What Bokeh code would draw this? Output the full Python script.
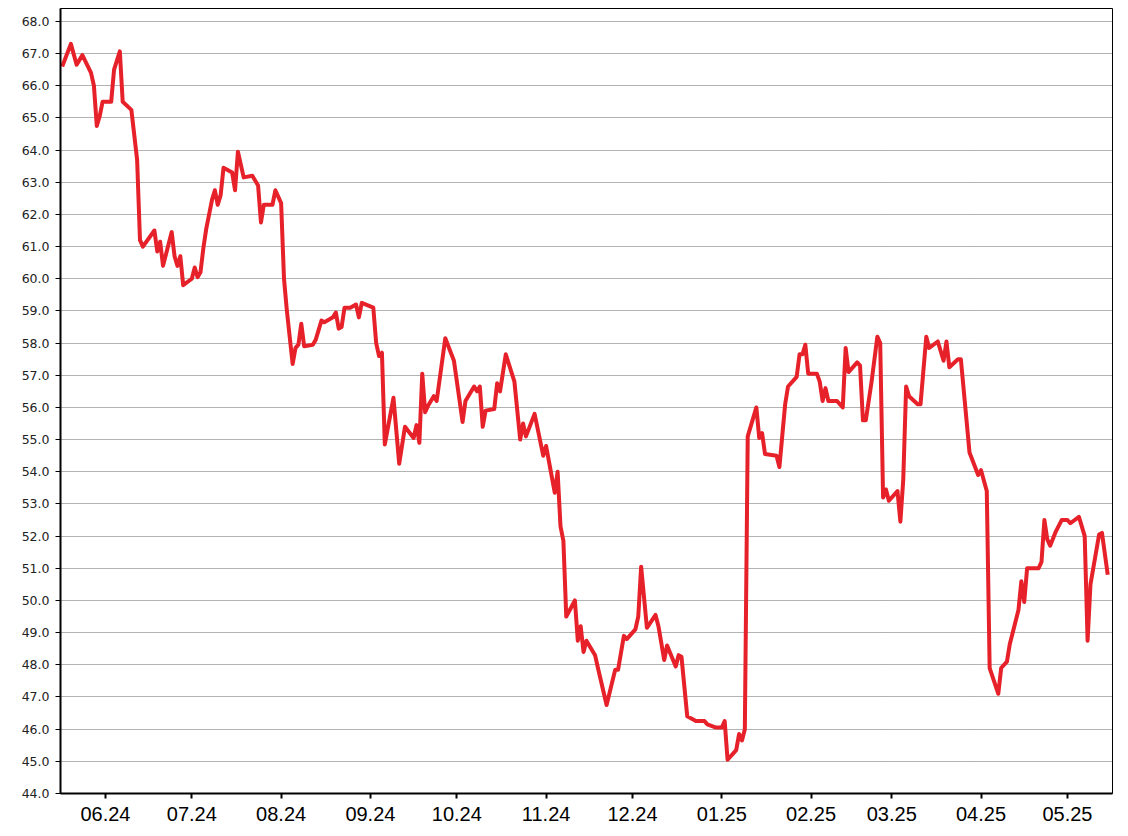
from datetime import datetime, timedelta
from bokeh.plotting import figure
from bokeh.models import (Range1d, SingleIntervalTicker, PrintfTickFormatter,
                          MonthsTicker, DatetimeTickFormatter, ColumnDataSource)
from bokeh.embed import file_html
from bokeh.resources import INLINE

BASE_DATE = "2024-06-01"
day_offset = [
    -15, -12, -10, -8, -5, -4, -3, -2, -1, 2,
    3, 5, 6, 9, 11, 12, 13, 17, 18, 19,
    20, 23, 24, 25, 26, 27, 30, 31, 32, 33,
    34, 35, 37, 38, 39, 40, 41, 44, 45, 46,
    48, 51, 53, 54, 55, 58, 59, 61, 62, 63,
    65, 66, 67, 68, 69, 72, 73, 75, 76, 79,
    80, 81, 82, 83, 85, 87, 88, 89, 93, 94,
    95, 96, 97, 100, 102, 104, 107, 108, 109, 110,
    111, 112, 114, 115, 118, 121, 124, 125, 128, 129,
    130, 131, 132, 135, 136, 137, 139, 142, 144, 145,
    146, 149, 152, 153, 156, 157, 158, 159, 160, 163,
    164, 165, 166, 167, 170, 171, 174, 177, 178, 180,
    181, 184, 185, 186, 188, 191, 192, 194, 195, 198,
    199, 200, 202, 205, 208, 209, 212, 214, 215, 216,
    219, 220, 221, 222, 223, 226, 227, 228, 229, 233,
    234, 236, 237, 240, 241, 242, 243, 244, 247, 248,
    249, 250, 251, 254, 256, 257, 258, 261, 262, 263,
    264, 266, 268, 269, 270, 271, 272, 275, 276, 277,
    278, 279, 282, 283, 285, 286, 289, 291, 292, 293,
    296, 297, 300, 303, 304, 306, 307, 310, 311, 313,
    314, 317, 318, 319, 320, 324, 325, 326, 327, 328,
    330, 332, 334, 335, 338, 340, 341, 342, 345, 346,
    348,
]
price = [
    66.6, 67.3, 66.65, 66.95, 66.4, 66.0, 64.75, 65.05, 65.5, 65.5,
    66.5, 67.07, 65.5, 65.25, 63.7, 61.2, 61.0, 61.5, 60.85, 61.15,
    60.4, 61.45, 60.7, 60.4, 60.7, 59.8, 60.0, 60.35, 60.05, 60.2,
    60.95, 61.55, 62.45, 62.75, 62.3, 62.6, 63.45, 63.3, 62.75, 63.95,
    63.15, 63.2, 62.9, 61.75, 62.3, 62.3, 62.75, 62.35, 60.0, 59.0,
    57.35, 57.85, 57.95, 58.6, 57.9, 57.95, 58.1, 58.7, 58.65, 58.8,
    58.95, 58.45, 58.5, 59.1, 59.1, 59.2, 58.8, 59.25, 59.1, 58.0,
    57.6, 57.7, 54.85, 56.3, 54.25, 55.4, 55.05, 55.45, 54.9, 57.05,
    55.85, 56.05, 56.35, 56.2, 58.15, 57.45, 55.55, 56.2, 56.65, 56.5,
    56.65, 55.4, 55.9, 55.95, 56.75, 56.5, 57.65, 56.8, 55.0, 55.5,
    55.1, 55.8, 54.5, 54.8, 53.35, 54.0, 52.3, 51.85, 49.5, 50.0,
    48.75, 49.2, 48.4, 48.75, 48.3, 47.9, 46.75, 47.85, 47.85, 48.9,
    48.8, 49.1, 49.5, 51.05, 49.15, 49.55, 49.2, 48.15, 48.6, 47.95,
    48.3, 48.25, 46.4, 46.25, 46.25, 46.15, 46.05, 46.05, 46.25, 45.05,
    45.35, 45.85, 45.65, 46.0, 55.1, 56.0, 55.05, 55.2, 54.55, 54.5,
    54.15, 56.1, 56.65, 56.95, 57.65, 57.65, 57.95, 57.05, 57.05, 56.8,
    56.2, 56.6, 56.2, 56.2, 56.0, 57.85, 57.1, 57.4, 57.3, 55.6,
    55.6, 56.8, 58.2, 58.0, 53.2, 53.45, 53.1, 53.4, 52.45, 53.75,
    56.65, 56.35, 56.1, 56.1, 58.2, 57.85, 58.05, 57.45, 58.05, 57.25,
    57.5, 57.5, 54.6, 53.9, 54.05, 53.4, 47.9, 47.1, 47.9, 48.1,
    48.65, 49.7, 50.6, 49.95, 51.0, 51.0, 51.2, 52.5, 51.9, 51.7,
    52.15, 52.5, 52.5, 52.4, 52.6, 52.0, 48.75, 50.5, 52.05, 52.1,
    50.8,
]
Y_MIN, Y_MAX = 44.0, 68.4

base = datetime.strptime(BASE_DATE, "%Y-%m-%d")
dates = [base + timedelta(days=d) for d in day_offset]
src = ColumnDataSource(dict(date=dates, price=price))

p = figure(width=1128, height=836, x_axis_type="datetime",
           output_backend="svg", toolbar_location=None,
           x_range=Range1d(base + timedelta(days=-15.6), base + timedelta(days=349.65)),
           y_range=Range1d(Y_MIN, Y_MAX),
           min_border_left=60, min_border_right=16, min_border_top=8, min_border_bottom=43)

p.background_fill_color = "white"
p.border_fill_color = "white"
p.outline_line_color = "black"
p.outline_line_width = 1

p.line("date", "price", source=src, line_color="#e62129", line_width=4, line_join="round")

# y axis
p.yaxis.ticker = SingleIntervalTicker(interval=1)
p.yaxis.formatter = PrintfTickFormatter(format="%.1f")
p.yaxis.major_label_text_font = "DejaVu Sans"
p.yaxis.major_label_text_font_size = "12.5px"
p.yaxis.major_label_text_color = "#222222"
p.yaxis.major_label_standoff = 6
p.yaxis.major_tick_out = 5
p.yaxis.major_tick_in = 0
p.yaxis.minor_tick_line_color = None
p.yaxis.axis_line_color = "black"
p.yaxis.axis_line_width = 2
p.yaxis.major_tick_line_color = "black"

# x axis
p.xaxis.ticker = MonthsTicker(months=list(range(1, 13)))
p.xaxis.formatter = DatetimeTickFormatter(months="%m.%y", days="%m.%y", years="%m.%y")
p.xaxis.major_label_text_font = "Liberation Sans"
p.xaxis.major_label_text_font_size = "20px"
p.xaxis.major_label_text_color = "black"
p.xaxis.major_label_standoff = 8
p.xaxis.major_tick_out = 5
p.xaxis.major_tick_in = 0
p.xaxis.minor_tick_line_color = None
p.xaxis.axis_line_color = "black"
p.xaxis.axis_line_width = 2
p.xaxis.major_tick_line_color = "black"
p.xaxis.major_tick_line_width = 2

# grid
p.xgrid.grid_line_color = None
p.ygrid.grid_line_color = "#666666"
p.ygrid.grid_line_dash = "1 1"
p.ygrid.grid_line_width = 1

open("out.html", "w").write(file_html(p, INLINE))
